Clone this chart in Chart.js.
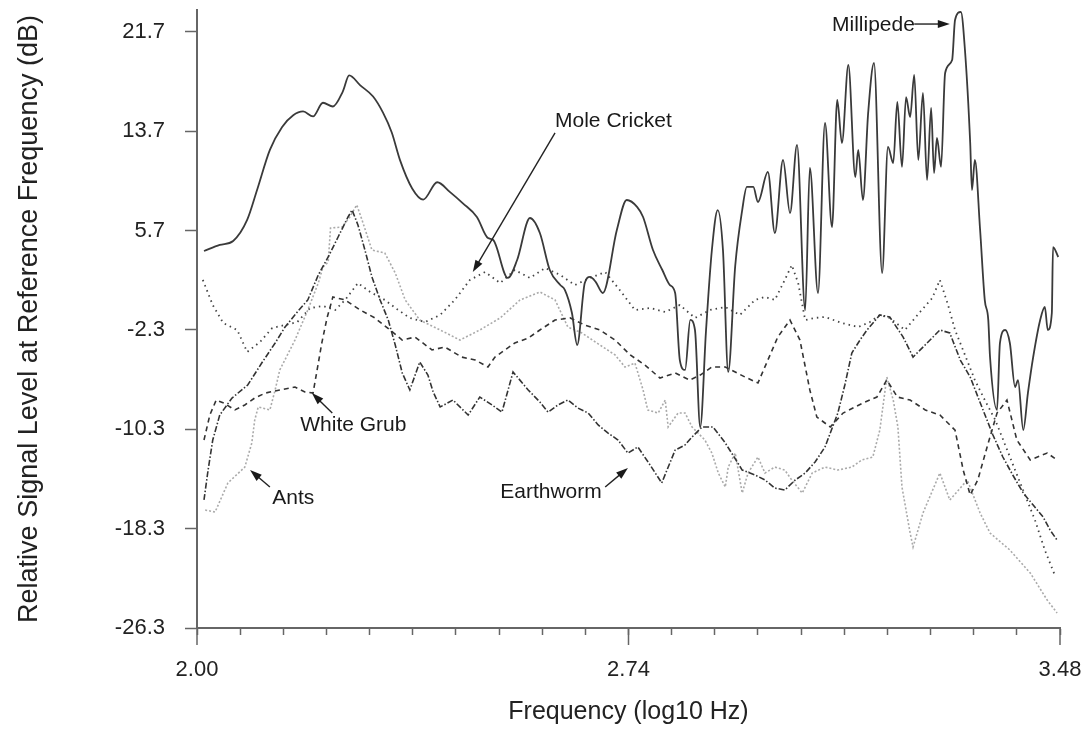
<!DOCTYPE html>
<html>
<head>
<meta charset="utf-8">
<script src="https://cdn.jsdelivr.net/npm/chart.js@4.4.1/dist/chart.umd.min.js"></script>
<style>
html, body { margin: 0; padding: 0; background: #fff; }
#wrap { width: 1090px; height: 743px; }
</style>
</head>
<body>
<div id="wrap"><canvas id="graph" width="1090" height="743"></canvas></div>
<script>
// tick values
const yTicks = [-26.3, -18.3, -10.3, -2.3, 5.7, 13.7, 21.7];
const xTicks = [2.000, 2.074, 2.148, 2.222, 2.296, 2.370, 2.444, 2.518, 2.592, 2.666, 2.740,
                2.814, 2.888, 2.962, 3.036, 3.110, 3.184, 3.258, 3.332, 3.406, 3.480];
const xTickLabels = ['2.00', '2.74', '3.48'];

// Millipede (solid)
const millipedeFreq = [2.012,2.039,2.062,2.086,2.103,2.125,2.146,2.165,2.182,2.199,2.216,2.233,2.250,2.261,2.280,
  2.302,2.319,2.334,2.348,2.369,2.388,2.412,2.434,2.456,2.480,2.499,2.508,2.533,2.549,2.571,2.588,2.605,2.623,
  2.631,2.643,2.652,2.665,2.674,2.684,2.696,2.720,2.737,2.755,2.765,2.782,2.798,2.811,2.820,2.828,2.837,2.846,
  2.854,2.863,2.873,2.883,2.893,2.902,2.911,2.923,2.935,2.943,2.954,2.962,2.979,2.991,3.005,3.017,3.029,3.043,
  3.051,3.065,3.077,3.089,3.098,3.106,3.117,3.129,3.134,3.142,3.151,3.161,3.175,3.185,3.194,3.201,3.209,3.216,
  3.223,3.230,3.237,3.245,3.252,3.259,3.264,3.269,3.276,3.283,3.295,3.300,3.310,3.317,3.326,3.329,3.334,3.343,
  3.351,3.357,3.360,3.372,3.377,3.386,3.394,3.403,3.408,3.417,3.425,3.434,3.446,3.454,3.459,3.466,3.468,3.477];
const millipedeDb = [4.06,4.55,4.87,6.56,8.97,12.2,14.05,15.0,15.3,14.9,16.0,15.7,16.9,18.2,17.4,
  16.5,15.2,13.6,11.4,9.1,8.2,9.6,8.8,7.9,6.8,5.1,4.95,1.89,3.34,6.72,5.51,2.53,1.32,
  0.92,-0.93,-3.51,1.48,1.97,1.56,0.68,5.75,8.17,7.60,6.80,4.14,2.53,1.32,0.68,-4.72,-5.52,-1.49,
  -2.3,-10.11,-2.3,4.14,7.36,4.14,-5.68,2.85,7.36,9.22,9.22,8.01,10.43,5.51,11.39,7.12,12.6,-0.69,
  10.75,0.68,14.37,5.99,16.22,12.76,19.04,10.02,12.2,8.17,15.18,19.2,2.29,12.44,11.15,16.06,10.83,16.46,
  14.85,18.24,11.39,16.79,9.78,15.58,10.34,13.16,10.83,18.4,19.45,22.67,23.31,20.25,12.76,8.97,11.39,5.75,
  0.11,-1.49,-4.48,-8.74,-3.35,-2.3,-3.35,-6.89,-6.33,-10.36,-7.37,-4.48,-1.49,-0.45,-2.3,-0.93,4.38,3.58];

// Mole Cricket (dotted)
const cricketFreq = [2.010,2.027,2.045,2.069,2.086,2.108,2.129,2.151,2.172,2.194,2.216,2.237,2.254,2.276,2.297,
  2.322,2.345,2.365,2.391,2.417,2.442,2.468,2.494,2.520,2.545,2.571,2.597,2.623,2.648,2.674,2.700,2.725,2.751,
  2.777,2.803,2.828,2.854,2.880,2.906,2.931,2.957,2.974,2.991,3.008,3.020,3.031,3.043,3.060,3.077,3.106,3.134,
  3.154,3.171,3.188,3.214,3.240,3.261,3.274,3.288,3.300,3.317,3.334,3.351,3.369,3.386,3.403,3.420,3.437,3.454,3.471];
const cricketDb = [1.73,-0.29,-1.74,-2.30,-4.07,-3.27,-2.14,-1.90,-1.66,-0.53,-0.37,-0.69,0.12,1.48,0.76,
  0.12,-0.69,-1.33,-1.66,-1.09,0.12,1.73,2.37,1.48,2.53,1.89,2.69,2.13,1.32,1.89,2.37,0.92,-0.69,
  -0.53,-0.85,-0.29,-1.33,-0.69,-0.45,-1.09,0.12,0.36,0.12,1.73,2.93,1.48,-1.50,-1.33,-1.25,-1.74,-2.06,
  -1.66,-1.09,-1.33,-2.30,-0.85,0.28,1.73,-0.29,-2.30,-4.31,-6.33,-7.94,-9.55,-11.56,-13.58,-15.59,-17.60,-20.02,-22.03];

// White Grub (dashed)
const grubFreq = [2.012,2.022,2.033,2.046,2.065,2.082,2.099,2.117,2.142,2.168,2.185,2.199,2.206,2.214,2.223,
  2.233,2.254,2.280,2.305,2.331,2.352,2.374,2.403,2.425,2.454,2.477,2.499,2.511,2.528,2.545,2.568,2.588,2.614,
  2.640,2.665,2.691,2.717,2.743,2.768,2.794,2.820,2.845,2.863,2.883,2.906,2.940,2.962,2.979,2.996,3.017,3.034,
  3.051,3.063,3.086,3.108,3.142,3.166,3.183,3.201,3.223,3.249,3.274,3.300,3.314,3.326,3.339,3.355,3.372,3.389,
  3.406,3.429,3.458,3.475];
const grubDb = [-11.16,-9.15,-7.94,-8.18,-8.74,-8.34,-7.78,-7.38,-7.13,-6.89,-7.29,-7.38,-5.52,-3.35,-1.33,
  0.36,0.12,-0.69,-1.33,-2.30,-3.11,-2.87,-3.91,-3.67,-4.48,-4.72,-5.28,-4.48,-3.91,-3.35,-2.95,-2.30,-1.50,
  -1.33,-1.90,-2.30,-3.11,-4.31,-5.12,-6.17,-5.76,-6.33,-5.93,-5.28,-5.28,-6.09,-6.57,-4.72,-2.87,-1.50,-3.11,
  -7.13,-9.31,-10.11,-8.99,-8.18,-7.70,-6.33,-7.70,-7.94,-8.74,-9.15,-10.36,-13.58,-15.59,-14.38,-11.72,-8.99,-7.94,
  -11.16,-12.77,-12.21,-12.77];

// Ants (light grey dotted)
const antsFreq = [2.014,2.031,2.053,2.082,2.094,2.099,2.105,2.125,2.134,2.142,2.168,2.190,2.208,2.216,2.225,
  2.229,2.249,2.262,2.274,2.283,2.300,2.322,2.340,2.357,2.382,2.417,2.451,2.485,2.520,2.554,2.588,2.614,2.636,
  2.660,2.691,2.717,2.734,2.751,2.765,2.773,2.791,2.803,2.808,2.825,2.837,2.849,2.871,2.883,2.894,2.906,2.911,
  2.923,2.935,2.945,2.962,2.974,2.991,3.008,3.020,3.038,3.055,3.077,3.099,3.123,3.140,3.159,3.171,3.183,3.194,
  3.202,3.209,3.223,3.228,3.245,3.274,3.291,3.321,3.343,3.360,3.394,3.429,3.458,3.475];
const antsDb = [-16.80,-16.96,-14.62,-13.34,-11.40,-9.55,-8.50,-8.74,-7.13,-5.52,-3.11,-0.69,1.48,2.77,3.17,
  5.91,5.99,6.80,7.77,6.56,4.14,3.90,2.29,0.12,-1.50,-2.30,-3.11,-2.30,-1.33,0.12,0.76,0.12,-2.06,
  -2.54,-3.51,-4.31,-5.28,-4.96,-7.13,-8.74,-8.99,-7.94,-10.11,-8.99,-8.99,-10.11,-11.16,-12.21,-13.82,-14.95,-13.34,
  -12.21,-15.43,-13.82,-12.53,-13.82,-13.34,-13.58,-14.38,-15.43,-13.82,-13.34,-13.58,-13.34,-12.77,-12.53,-10.36,-6.09,-7.94,
  -10.11,-14.95,-18.65,-19.78,-17.04,-13.82,-15.99,-14.38,-17.04,-18.65,-20.02,-21.87,-24.05,-25.09];

// Earthworm (dash-dot)
const wormFreq = [2.012,2.019,2.027,2.039,2.060,2.087,2.111,2.134,2.151,2.172,2.190,2.208,2.225,2.242,2.259,
  2.266,2.276,2.288,2.300,2.314,2.328,2.340,2.352,2.365,2.382,2.396,2.405,2.417,2.439,2.465,2.485,2.506,2.523,
  2.542,2.568,2.588,2.602,2.619,2.636,2.653,2.671,2.688,2.705,2.722,2.739,2.756,2.777,2.797,2.820,2.837,2.849,
  2.866,2.885,2.906,2.919,2.935,2.957,2.974,2.991,3.008,3.026,3.043,3.060,3.077,3.099,3.111,3.123,3.137,3.149,
  3.171,3.188,3.211,3.228,3.252,3.274,3.291,3.309,3.326,3.348,3.365,3.382,3.399,3.417,3.434,3.451,3.463,3.475];
const wormDb = [-15.99,-13.58,-11.16,-9.15,-7.78,-6.73,-4.96,-3.35,-2.06,-0.85,0.12,2.13,3.58,5.19,6.80,
  7.36,6.16,4.14,1.97,0.12,-1.50,-3.51,-5.76,-7.13,-4.88,-5.93,-7.29,-8.50,-7.94,-9.15,-7.70,-8.34,-8.91,
  -5.68,-7.13,-8.10,-8.91,-8.34,-7.94,-8.58,-8.99,-9.95,-10.60,-11.16,-12.21,-11.72,-13.17,-14.62,-11.97,-11.56,-10.92,
  -10.11,-10.11,-11.40,-12.37,-13.58,-13.98,-14.38,-15.03,-15.19,-14.38,-13.82,-12.93,-11.72,-8.99,-6.73,-4.15,-3.11,-2.30,
  -1.09,-1.25,-2.87,-4.48,-3.35,-2.30,-2.54,-4.72,-6.09,-8.74,-10.76,-12.53,-13.98,-15.43,-16.40,-17.36,-18.41,-19.22];

// callouts: text anchor and arrow (tail -> head), in data units
const notes = [
  { text: 'Millipede',    x: 3.089, y: 22.26, tail: [3.230, 22.34], head: [3.291, 22.34] },
  { text: 'Mole Cricket', x: 2.614, y: 14.53, tail: [2.614, 13.57], head: [2.473, 2.37] },
  { text: 'White Grub',   x: 2.177, y: -9.95, tail: [2.232, -8.99], head: [2.197, -7.38] },
  { text: 'Ants',         x: 2.129, y: -15.83, tail: [2.125, -14.95], head: [2.091, -13.58] },
  { text: 'Earthworm',    x: 2.520, y: -15.35, tail: [2.700, -14.95], head: [2.739, -13.41] }
];

const FONT = 'Liberation Sans, Arial, sans-serif';

function pts(xs, ys) {
  const n = Math.min(xs.length, ys.length);
  const out = [];
  for (let i = 0; i < n; i++) out.push({ x: xs[i], y: ys[i] });
  return out;
}

const notesPlugin = {
  id: 'notes',
  afterDraw(chart) {
    const { ctx, scales: { x, y } } = chart;
    ctx.save();
    // longer ticks at the labelled frequencies
    ctx.strokeStyle = '#666';
    ctx.lineWidth = 1.5;
    xTickLabels.forEach(l => {
      const px = x.getPixelForValue(parseFloat(l));
      ctx.beginPath();
      ctx.moveTo(px, y.bottom);
      ctx.lineTo(px, y.bottom + 17);
      ctx.stroke();
    });
    ctx.fillStyle = '#1a1a1a';
    ctx.strokeStyle = '#222';
    ctx.font = '21px ' + FONT;
    ctx.textBaseline = 'middle';
    ctx.textAlign = 'left';
    notes.forEach(n => {
      ctx.fillText(n.text, x.getPixelForValue(n.x), y.getPixelForValue(n.y));
      const x0 = x.getPixelForValue(n.tail[0]), y0 = y.getPixelForValue(n.tail[1]);
      const x1 = x.getPixelForValue(n.head[0]), y1 = y.getPixelForValue(n.head[1]);
      const a = Math.atan2(y1 - y0, x1 - x0);
      ctx.lineWidth = 1.4;
      ctx.beginPath();
      ctx.moveTo(x0, y0);
      ctx.lineTo(x1 - 8 * Math.cos(a), y1 - 8 * Math.sin(a));
      ctx.stroke();
      ctx.beginPath();
      ctx.moveTo(x1, y1);
      ctx.lineTo(x1 - 12 * Math.cos(a) + 4 * Math.sin(a), y1 - 12 * Math.sin(a) - 4 * Math.cos(a));
      ctx.lineTo(x1 - 12 * Math.cos(a) - 4 * Math.sin(a), y1 - 12 * Math.sin(a) + 4 * Math.cos(a));
      ctx.closePath();
      ctx.fill();
    });
    ctx.restore();
  }
};

const graph = document.getElementById('graph');
new Chart(graph, {
  type: 'line',
  data: {
    datasets: [
      { label: 'Millipede', data: pts(millipedeFreq, millipedeDb), borderColor: '#3a3a3a', borderWidth: 1.8,
        cubicInterpolationMode: 'monotone' },
      { label: 'Earthworm', data: pts(wormFreq, wormDb), borderColor: '#333', borderWidth: 1.6,
        borderDash: [6, 2, 1.5, 2] },
      { label: 'White Grub', data: pts(grubFreq, grubDb), borderColor: '#333', borderWidth: 1.6,
        borderDash: [5, 4] },
      { label: 'Mole Cricket', data: pts(cricketFreq, cricketDb), borderColor: '#444', borderWidth: 1.8,
        borderDash: [1.5, 4] },
      { label: 'Ants', data: pts(antsFreq, antsDb), borderColor: '#aaa', borderWidth: 1.6,
        borderDash: [2, 2] }
    ]
  },
  options: {
    responsive: false,
    animation: false,
    parsing: false,
    layout: { padding: { top: 10, left: 0, right: 30, bottom: 10 } },
    elements: { point: { radius: 0 }, line: { tension: 0, fill: false } },
    plugins: { legend: { display: false }, tooltip: { enabled: false } },
    scales: {
      x: {
        type: 'linear', min: 2, max: 3.48,
        afterBuildTicks: s => { s.ticks = xTicks.map(v => ({ value: v })); },
        afterFit: s => { s.height = 105; s.paddingLeft = 0; s.paddingRight = 0; },
        grid: { drawOnChartArea: false, tickLength: 7, tickColor: '#666', tickWidth: 1.5 },
        border: { display: true, color: '#666', width: 2 },
        ticks: {
          autoSkip: false, maxRotation: 0, padding: 22, color: '#222',
          font: { family: FONT, size: 22 },
          callback: v => { const s = Number(v).toFixed(2); return xTickLabels.includes(s) ? s : ''; }
        },
        title: { display: true, text: 'Frequency (log10 Hz)', color: '#222',
          font: { family: FONT, size: 25 }, padding: { top: 0, bottom: 6 } }
      },
      y: {
        type: 'linear', min: -26.3, max: 23.47,
        afterBuildTicks: s => { s.ticks = yTicks.map(v => ({ value: v })); },
        afterFit: s => { s.width = 197; s.paddingTop = 0; s.paddingBottom = 0; },
        grid: { drawOnChartArea: false, tickLength: 12, tickColor: '#666', tickWidth: 1.5 },
        border: { display: true, color: '#666', width: 2 },
        ticks: { padding: 20, color: '#222', font: { family: FONT, size: 22 },
          callback: v => Number(v).toFixed(1) },
        title: { display: true, text: 'Relative Signal Level at Reference Frequency (dB)', color: '#222',
          font: { family: FONT, size: 27 }, padding: { top: 13, bottom: 0 } }
      }
    }
  },
  plugins: [notesPlugin]
});
</script>
</body>
</html>
